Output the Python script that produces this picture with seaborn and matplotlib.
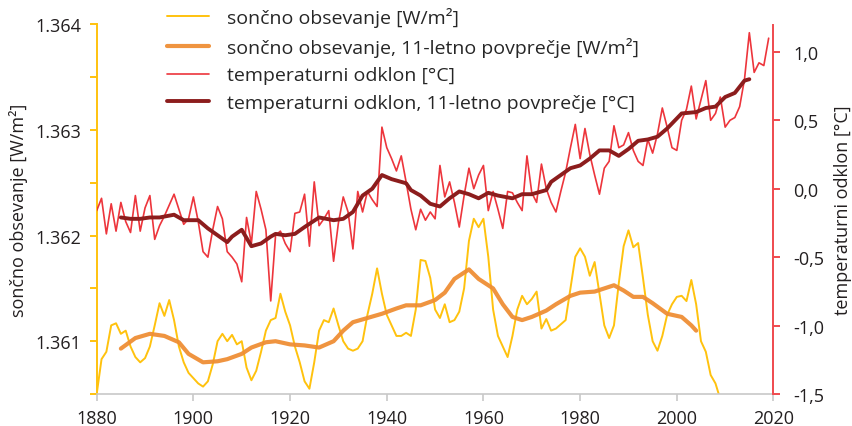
import matplotlib
matplotlib.use("Agg")
import matplotlib.pyplot as plt
import seaborn as sns
from matplotlib.ticker import FixedLocator, FuncFormatter

sns.set_theme(style="white")
plt.rcParams["font.family"] = ["Open Sans", "DejaVu Sans"]

# Annual global temperature anomaly [°C], 1880-2019
temp_years = list(range(1880, 2020))
temp_anomaly = [
    -0.16, -0.07, -0.33, -0.11, -0.31, -0.10, -0.24, -0.32, -0.05, -0.31,
    -0.14, -0.05, -0.37, -0.27, -0.20, -0.12, -0.04, -0.15, -0.26, -0.22,
    -0.06, -0.24, -0.46, -0.50, -0.30, -0.13, -0.22, -0.46, -0.50, -0.55,
    -0.68, -0.21, -0.40, -0.02, -0.15, -0.30, -0.82, -0.34, -0.31, -0.40,
    -0.46, -0.18, -0.17, -0.04, -0.42, 0.05, -0.27, -0.22, -0.16, -0.53,
    -0.25, -0.06, -0.17, -0.44, -0.02, -0.17, -0.02, -0.08, -0.13, 0.45,
    0.30, 0.22, 0.13, 0.24, 0.05, -0.15, -0.30, -0.15, -0.23, -0.17,
    -0.22, 0.17, -0.06, 0.05, -0.10, -0.28, -0.05, 0.15, 0.00, 0.10,
    0.17, -0.16, -0.02, -0.15, -0.29, -0.02, -0.03, -0.10, -0.16, 0.24,
    -0.03, -0.10, 0.18, 0.00, -0.10, -0.17, -0.02, 0.12, 0.30, 0.47,
    0.22, 0.44, 0.25, 0.10, -0.04, 0.15, 0.20, 0.46, 0.30, 0.32,
    0.41, 0.28, 0.20, 0.17, 0.36, 0.26, 0.40, 0.59, 0.45, 0.30,
    0.28, 0.50, 0.58, 0.75, 0.51, 0.65, 0.79, 0.50, 0.55, 0.67,
    0.45, 0.50, 0.52, 0.60, 0.80, 1.14, 0.85, 0.92, 0.90, 1.10,
]

# 11-year running mean of the temperature anomaly [°C]
temp_avg_years = [1885, 1887, 1889, 1891, 1893, 1896, 1898, 1901, 1903, 1905,
                  1907, 1908, 1910, 1912, 1914, 1916, 1917, 1919, 1921, 1923,
                  1926, 1929, 1931, 1933, 1935, 1937, 1939, 1941, 1944, 1945,
                  1947, 1949, 1951, 1953, 1955, 1957, 1959, 1961, 1963, 1966,
                  1968, 1970, 1973, 1974, 1976, 1978, 1980, 1982, 1984, 1986,
                  1988, 1990, 1992, 1994, 1996, 1998, 2001, 2004, 2006, 2008,
                  2010, 2012, 2014, 2015]
temp_avg = [-0.21, -0.22, -0.22, -0.21, -0.21, -0.19, -0.23, -0.23, -0.29, -0.34,
            -0.39, -0.35, -0.30, -0.42, -0.40, -0.35, -0.33, -0.34, -0.33, -0.28,
            -0.21, -0.23, -0.22, -0.17, -0.05, 0.00, 0.10, 0.07, 0.04, -0.01,
            -0.05, -0.11, -0.13, -0.07, -0.02, -0.04, -0.07, -0.03, -0.05, -0.07,
            -0.04, -0.04, -0.01, 0.05, 0.10, 0.15, 0.17, 0.22, 0.28, 0.28,
            0.24, 0.29, 0.35, 0.36, 0.38, 0.44, 0.55, 0.56, 0.59, 0.60,
            0.67, 0.70, 0.79, 0.80]

# Annual total solar irradiance [W/m²], 1880-2009
solar_years = list(range(1880, 2010))
solar = [
    1360.50, 1360.83, 1360.90, 1361.15, 1361.17, 1361.07, 1361.10, 1360.95, 1360.85, 1360.80,
    1360.84, 1360.95, 1361.15, 1361.36, 1361.24, 1361.39, 1361.20, 1360.95, 1360.80, 1360.70,
    1360.65, 1360.60, 1360.57, 1360.62, 1360.78, 1361.00, 1361.07, 1361.00, 1361.06, 1360.97,
    1361.00, 1360.75, 1360.63, 1360.72, 1360.90, 1361.10, 1361.20, 1361.22, 1361.45, 1361.28,
    1361.15, 1360.95, 1360.80, 1360.62, 1360.55, 1360.80, 1361.10, 1361.20, 1361.18, 1361.31,
    1361.15, 1361.00, 1360.93, 1360.91, 1360.93, 1361.00, 1361.25, 1361.45, 1361.69, 1361.45,
    1361.25, 1361.15, 1361.05, 1361.05, 1361.08, 1361.05, 1361.30, 1361.77, 1361.76, 1361.60,
    1361.30, 1361.22, 1361.35, 1361.18, 1361.20, 1361.28, 1361.50, 1361.95, 1362.16, 1362.08,
    1362.16, 1361.80, 1361.30, 1361.05, 1360.95, 1360.85, 1361.05, 1361.30, 1361.43, 1361.35,
    1361.40, 1361.47, 1361.12, 1361.21, 1361.10, 1361.12, 1361.16, 1361.20, 1361.50, 1361.80,
    1361.88, 1361.80, 1361.62, 1361.75, 1361.45, 1361.15, 1361.03, 1361.15, 1361.55, 1361.90,
    1362.05, 1361.89, 1361.93, 1361.60, 1361.25, 1361.00, 1360.91, 1361.05, 1361.25, 1361.35,
    1361.42, 1361.43, 1361.38, 1361.58, 1361.35, 1361.00, 1360.90, 1360.68, 1360.60, 1360.45,
]

# 11-year running mean of the solar irradiance [W/m²]
solar_avg_years = [1885, 1888, 1891, 1894, 1897, 1899, 1902, 1905, 1907, 1910,
                   1912, 1915, 1917, 1920, 1923, 1926, 1929, 1931, 1933, 1936,
                   1939, 1942, 1944, 1947, 1950, 1952, 1954, 1957, 1959, 1962,
                   1964, 1966, 1968, 1970, 1973, 1975, 1978, 1980, 1983, 1985,
                   1987, 1989, 1991, 1993, 1995, 1998, 2001, 2003, 2004]
solar_avg = [1360.93, 1361.03, 1361.07, 1361.05, 1360.99, 1360.88, 1360.80, 1360.81, 1360.83, 1360.88,
             1360.94, 1360.99, 1361.00, 1360.97, 1360.96, 1360.94, 1361.00, 1361.10, 1361.18, 1361.22,
             1361.26, 1361.31, 1361.34, 1361.34, 1361.39, 1361.46, 1361.59, 1361.68, 1361.59, 1361.50,
             1361.35, 1361.23, 1361.20, 1361.23, 1361.29, 1361.35, 1361.43, 1361.46, 1361.47, 1361.50,
             1361.53, 1361.48, 1361.42, 1361.42, 1361.36, 1361.26, 1361.23, 1361.15, 1361.10]

labels = [
    "sončno obsevanje [W/m²]",
    "sončno obsevanje, 11-letno povprečje [W/m²]",
    "temperaturni odklon [°C]",
    "temperaturni odklon, 11-letno povprečje [°C]",
]
x_ticks = [1880, 1900, 1920, 1940, 1960, 1980, 2000, 2020]

YELLOW = "#FFC20E"
ORANGE = "#EF8E35"
RED = "#EC2A31"
DARKRED = "#8C1D1D"
RED_AXIS = "#EF4A4E"
GREY = "#C8C8C8"
TEXT = "#231F20"
FS = 13

fig = plt.figure(figsize=(8.53, 4.27), dpi=100)
ax = fig.add_axes([96.7 / 853, 1 - 395 / 427, (773.5 - 96.7) / 853, (395 - 25.5) / 427])
ax2 = ax.twinx()

sns.lineplot(x=solar_years, y=solar, ax=ax, color=YELLOW, lw=1.4, label=labels[0])
sns.lineplot(x=solar_avg_years, y=solar_avg, ax=ax, color=ORANGE, lw=3.0, alpha=0.95, label=labels[1])
sns.lineplot(x=temp_years, y=temp_anomaly, ax=ax2, color=RED, lw=1.2, alpha=0.95, label=labels[2])
sns.lineplot(x=temp_avg_years, y=temp_avg, ax=ax2, color=DARKRED, lw=2.8, label=labels[3])

h1, l1 = ax.get_legend_handles_labels()
h2, l2 = ax2.get_legend_handles_labels()
ax.get_legend().remove()
ax2.get_legend().remove()

ax.set_xlim(1880, 2020)
ax.set_ylim(1360.5, 1364.0)
ax2.set_ylim(-1.5, 1.2)

# left axis: irradiance in W/m², thousands separator as a dot
ax.yaxis.set_major_locator(FixedLocator([1361, 1362, 1363, 1364]))
ax.yaxis.set_minor_locator(FixedLocator([1360.5, 1361.5, 1362.5, 1363.5]))
ax.yaxis.set_major_formatter(FuncFormatter(lambda v, p: f"{v / 1000:.3f}"))
ax2.yaxis.set_major_locator(FixedLocator([-1.5, -1.0, -0.5, 0.0, 0.5, 1.0]))
ax2.yaxis.set_major_formatter(FuncFormatter(lambda v, p: f"{v:.1f}".replace(".", ",")))
ax.xaxis.set_major_locator(FixedLocator(x_ticks))
ax.xaxis.set_major_formatter(FuncFormatter(lambda v, p: f"{int(v)}"))

for s in ["top", "right"]:
    ax.spines[s].set_visible(False)
for s in ["top", "left", "bottom"]:
    ax2.spines[s].set_visible(False)
ax.spines["left"].set_color(YELLOW)
ax.spines["left"].set_linewidth(1.4)
ax.spines["bottom"].set_color(GREY)
ax.spines["bottom"].set_linewidth(1.2)
ax2.spines["right"].set_color(RED_AXIS)
ax2.spines["right"].set_linewidth(1.4)

ax.tick_params(axis="y", which="both", direction="out", length=5, width=1.4,
               color=YELLOW, labelsize=FS, labelcolor=TEXT, pad=6, left=True)
ax.tick_params(axis="x", direction="out", length=5, width=1.2, color=GREY,
               labelsize=FS, labelcolor=TEXT, pad=6, bottom=True)
ax2.tick_params(axis="y", direction="out", length=5, width=1.4, color=RED_AXIS,
                labelsize=FS, labelcolor=TEXT, pad=9, right=True)

ax.set_xlabel("")
ax.set_ylabel("sončno obsevanje [W/m²]", fontsize=FS, color=TEXT, labelpad=5)
ax2.set_ylabel("temperaturni odklon [°C]", fontsize=FS, color=TEXT, labelpad=7)

ax2.legend(h1 + h2, l1 + l2, loc="upper left", bbox_to_anchor=(167 / 853, 1 - 8 / 427),
           bbox_transform=fig.transFigure, frameon=False, fontsize=14,
           handlelength=2.15, handletextpad=0.95, labelspacing=0.5, borderpad=0,
           borderaxespad=0)

fig.savefig("out.png", dpi=100, facecolor="white")
